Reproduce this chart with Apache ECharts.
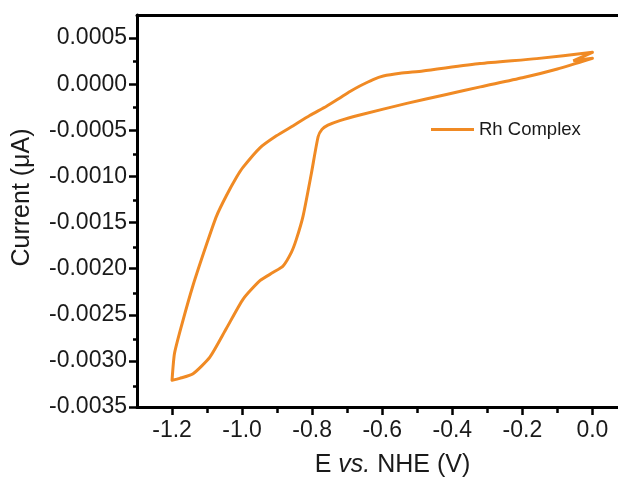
<!DOCTYPE html>
<html>
<head>
<meta charset="utf-8">
<script src="https://cdn.jsdelivr.net/npm/echarts@6/dist/echarts.min.js"></script>
<style>
html,body{margin:0;padding:0;background:#fff;}
#chart{width:618px;height:483px;}
</style>
</head>
<body>
<div id="chart"></div>
<script>
// Potential (V vs NHE), in scan order
const potential = [
  -0.055, 0.000, -0.100, -0.200, -0.320, -0.420, -0.530, -0.664, -0.721, -0.755,
  -0.772, -0.783, -0.802, -0.826, -0.845, -0.859, -0.883, -0.911, -0.949, -0.997,
  -1.045, -1.092, -1.140, -1.178, -1.200, -1.193, -1.173, -1.140, -1.100,
  -1.073, -1.045, -1.016, -0.997, -0.949, -0.902, -0.854, -0.807, -0.759,
  -0.721, -0.692, -0.664, -0.626, -0.597, -0.549, -0.484, -0.321, -0.159, 0.000,
  -0.055
];
// Current, in scan order
const current = [
  0.000253, 0.000280, 0.000165, 0.000069, -0.000029, -0.000114, -0.000208, -0.000334, -0.000395, -0.000445,
  -0.000490, -0.000570, -0.000962, -0.00143, -0.00168, -0.00182, -0.00197, -0.00204, -0.00213, -0.00233,
  -0.00265, -0.00296, -0.00314, -0.00319, -0.00321, -0.00292, -0.00262, -0.00218, -0.00172,
  -0.00143, -0.00121, -0.00101, -0.00090, -0.00069, -0.00056, -0.00045, -0.00034, -0.00024,
  -0.00015, -0.00008, -0.00002, 0.000050, 0.000088, 0.000118, 0.000143, 0.000223, 0.000277, 0.000345,
  0.000253
];
const seriesName = 'Rh Complex';
const xMajorTicks = [-1.2, -1.0, -0.8, -0.6, -0.4, -0.2, 0.0];
const xMinorTicks = [-1.1, -0.9, -0.7, -0.5, -0.3, -0.1];
const yMajorTicks = [-0.0035, -0.0030, -0.0025, -0.0020, -0.0015, -0.0010, -0.0005, 0.0000, 0.0005];
const yMinorTicks = [-0.00325, -0.00275, -0.00225, -0.00175, -0.00125, -0.00075, -0.00025, 0.00025];

const X_MIN = -1.3, X_MAX = 0.073, Y_MIN = -0.0035, Y_MAX = 0.00075;
const FONT = "'Liberation Sans', Arial, sans-serif";
const LINE_COLOR = '#F08A24';

const chart = echarts.init(document.getElementById('chart'), null, {renderer: 'canvas'});
const gridBox = {left: 137, top: 15, right: 0, bottom: 74, containLabel: false};

const option = {
  animation: false,
  backgroundColor: '#ffffff',
  grid: [Object.assign({}, gridBox), Object.assign({}, gridBox)],
  legend: {
    data: [{name: seriesName, icon: 'rect'}],
    left: 431, top: 120,
    itemWidth: 43, itemHeight: 3,
    padding: 0,
    itemStyle: {color: LINE_COLOR},
    textStyle: {fontFamily: FONT, fontSize: 18.5, color: '#1a1a1a'}
  },
  xAxis: [
    {
      type: 'value', gridIndex: 0, min: X_MIN, max: X_MAX, position: 'bottom',
      name: 'E {i|vs.} NHE (V)', nameLocation: 'middle', nameGap: 46,
      nameTextStyle: {fontFamily: FONT, fontSize: 25, color: '#1a1a1a', padding: [0, 0, 0, 30],
        rich: {i: {fontFamily: FONT, fontSize: 25, fontStyle: 'italic', color: '#1a1a1a'}}},
      axisLine: {show: true, onZero: false, lineStyle: {color: '#000', width: 3}},
      axisTick: {show: true, inside: false, length: 8, customValues: xMajorTicks, lineStyle: {color: '#000', width: 2.5}},
      axisLabel: {show: true, customValues: xMajorTicks, margin: 12, fontFamily: FONT, fontSize: 23, color: '#1a1a1a',
        formatter: v => Number(v).toFixed(1)},
      splitLine: {show: false}
    },
    {
      type: 'value', gridIndex: 0, min: X_MIN, max: X_MAX, position: 'top',
      axisLine: {show: true, onZero: false, lineStyle: {color: '#000', width: 3}},
      axisTick: {show: false}, axisLabel: {show: false}, splitLine: {show: false}
    },
    {
      type: 'value', gridIndex: 1, min: X_MIN, max: X_MAX, position: 'bottom',
      axisLine: {show: false, onZero: false},
      axisTick: {show: true, inside: false, length: 4, customValues: xMinorTicks, lineStyle: {color: '#000', width: 2.5}},
      axisLabel: {show: false}, splitLine: {show: false}
    }
  ],
  yAxis: [
    {
      type: 'value', gridIndex: 0, min: Y_MIN, max: Y_MAX, position: 'left',
      name: 'Current (μA)', nameLocation: 'middle', nameGap: 102, nameRotate: 90,
      nameTextStyle: {fontFamily: FONT, fontSize: 25, color: '#1a1a1a', padding: [0, 0, 0, 27]},
      axisLine: {show: true, onZero: false, lineStyle: {color: '#000', width: 3}},
      axisTick: {show: true, inside: false, length: 8, customValues: yMajorTicks, lineStyle: {color: '#000', width: 2.5}},
      axisLabel: {show: true, customValues: yMajorTicks, margin: 10, fontFamily: FONT, fontSize: 23, color: '#1a1a1a',
        formatter: v => { const s = Number(v).toFixed(4); return s === '-0.0000' ? '0.0000' : s; }},
      splitLine: {show: false}
    },
    {
      type: 'value', gridIndex: 1, min: Y_MIN, max: Y_MAX, position: 'left',
      axisLine: {show: false, onZero: false},
      axisTick: {show: true, inside: false, length: 4, customValues: yMinorTicks, lineStyle: {color: '#000', width: 2.5}},
      axisLabel: {show: false}, splitLine: {show: false}
    }
  ],
  series: [
    {
      name: seriesName, type: 'line', xAxisIndex: 0, yAxisIndex: 0,
      data: potential.map((e, i) => [e, current[i]]),
      symbol: 'none', showSymbol: false, smooth: 0.2,
      lineStyle: {color: LINE_COLOR, width: 3, join: 'round'},
      itemStyle: {color: LINE_COLOR},
      clip: true
    }
  ]
};
chart.setOption(option);
</script>
</body>
</html>
